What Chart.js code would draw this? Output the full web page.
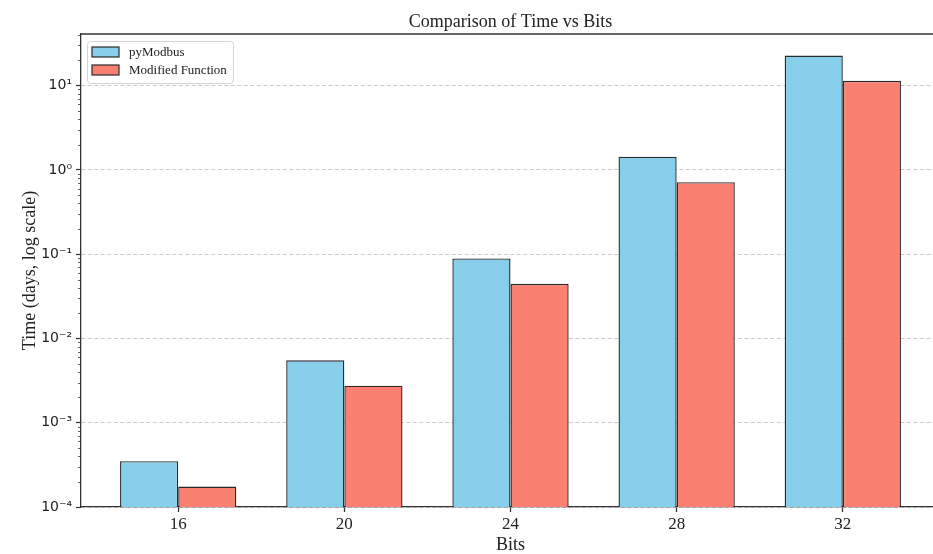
<!DOCTYPE html>
<html>
<head>
<meta charset="utf-8">
<script src="https://cdn.jsdelivr.net/npm/chart.js@4.4.0/dist/chart.umd.min.js"></script>
<style>
  html, body { margin: 0; padding: 0; background: #fff; overflow: hidden; }
  #wrap { width: 941px; height: 554px; }
</style>
</head>
<body>
<div id="wrap"><canvas id="chart" width="941" height="554"></canvas></div>
<script>
// Data
const bits = [16, 20, 24, 28, 32];
const pyModbus = [3.5e-4, 5.5e-3, 0.089, 1.43, 22.8];
const modified = [1.75e-4, 2.75e-3, 0.0445, 0.715, 11.4];
const yTicks = [1e-4, 1e-3, 1e-2, 1e-1, 1, 10];
const yTickLabels = ['10⁻⁴', '10⁻³', '10⁻²', '10⁻¹', '10⁰', '10¹'];

const serif = '"Times New Roman", "Liberation Serif", serif';
const axisColor = '#333';

// Title, top spine, minor ticks and in-axes legend (matplotlib look)
const mplExtras = {
    id: 'mplExtras',
    beforeDatasetsDraw(chart) {
        const ctx = chart.ctx;
        const y = chart.scales.y;
        const area = chart.chartArea;
        ctx.save();
        ctx.strokeStyle = axisColor;
        ctx.lineWidth = 0.8;
        for (let k = -4; k <= 1; k++) {
            for (let m = 2; m <= 9; m++) {
                const v = m * Math.pow(10, k);
                if (v < y.min || v > y.max) continue;
                const py = Math.round(y.getPixelForValue(v)) + 0.5;
                ctx.beginPath();
                ctx.moveTo(area.left - 3, py);
                ctx.lineTo(area.left, py);
                ctx.stroke();
            }
        }
        ctx.restore();
    },
    afterDraw(chart) {
        const ctx = chart.ctx;
        const area = chart.chartArea;
        ctx.save();
        // top spine
        ctx.strokeStyle = axisColor;
        ctx.lineWidth = 1.3;
        ctx.beginPath();
        ctx.moveTo(area.left, area.top);
        ctx.lineTo(area.right + 1, area.top);
        ctx.stroke();

        // title
        ctx.fillStyle = '#222';
        ctx.font = '18px ' + serif;
        ctx.textAlign = 'center';
        ctx.textBaseline = 'alphabetic';
        ctx.fillText('Comparison of Time vs Bits', (area.left + area.right) / 2, 27);

        // legend
        const sets = chart.data.datasets;
        ctx.font = '13px ' + serif;
        let tw = 0;
        sets.forEach(d => { tw = Math.max(tw, ctx.measureText(d.label).width); });
        const bx = area.left + 6, by = area.top + 7;
        const bw = 5 + 27 + 10 + tw + 6, bh = 42;
        ctx.fillStyle = 'rgba(255,255,255,0.85)';
        ctx.strokeStyle = '#d4d4d4';
        ctx.lineWidth = 1;
        ctx.beginPath();
        ctx.roundRect(bx + 0.5, by + 0.5, bw, bh, 3);
        ctx.fill();
        ctx.stroke();
        sets.forEach((d, i) => {
            const hy = by + 6 + i * 18;
            ctx.fillStyle = d.backgroundColor;
            ctx.strokeStyle = d.borderColor;
            ctx.lineWidth = 1.2;
            ctx.fillRect(bx + 5, hy, 27, 10);
            ctx.strokeRect(bx + 5, hy, 27, 10);
            ctx.fillStyle = '#222';
            ctx.textAlign = 'left';
            ctx.textBaseline = 'middle';
            ctx.fillText(d.label, bx + 5 + 27 + 10, hy + 5.5);
        });
        ctx.restore();
    }
};

new Chart(document.getElementById('chart'), {
    type: 'bar',
    data: {
        datasets: [
            {
                label: 'pyModbus',
                data: bits.map((b, i) => ({ x: i, y: pyModbus[i] })),
                backgroundColor: '#87CEEB',
                borderColor: '#2a2a2a',
                borderWidth: 1.4,
                borderSkipped: 'start'
            },
            {
                label: 'Modified Function',
                data: bits.map((b, i) => ({ x: i, y: modified[i] })),
                backgroundColor: '#FA8072',
                borderColor: '#2a2a2a',
                borderWidth: 1.4,
                borderSkipped: 'start'
            }
        ]
    },
    options: {
        responsive: false,
        animation: false,
        devicePixelRatio: 1,
        layout: { padding: { top: 34, right: 1, left: 0, bottom: 0 } },
        categoryPercentage: 0.7,
        barPercentage: 1.0,
        plugins: {
            legend: { display: false },
            title: { display: false },
            tooltip: { enabled: false }
        },
        scales: {
            x: {
                type: 'linear',
                offset: false,
                min: -0.585,
                max: 4.585,
                afterBuildTicks: s => { s.ticks = bits.map((b, i) => ({ value: i })); },
                afterFit: s => { s.height = 47; },
                ticks: {
                    callback: v => String(bits[v]),
                    font: { family: serif, size: 17 },
                    color: '#222',
                    padding: 2,
                    maxRotation: 0
                },
                grid: {
                    offset: false,
                    drawOnChartArea: false,
                    drawTicks: true,
                    tickLength: 5,
                    tickColor: axisColor,
                    tickWidth: 1.3
                },
                border: { display: true, color: axisColor, width: 1.3 },
                title: {
                    display: true,
                    text: 'Bits',
                    font: { family: serif, size: 18, lineHeight: 1 },
                    color: '#222',
                    padding: { top: 0, bottom: 0 }
                }
            },
            y: {
                type: 'logarithmic',
                min: 1e-4,
                max: 41,
                afterBuildTicks: s => { s.ticks = yTicks.map(v => ({ value: v })); },
                afterFit: s => { s.width = 81; },
                ticks: {
                    callback: v => yTickLabels[yTicks.indexOf(v)] ?? '',
                    font: { family: '"DejaVu Sans", sans-serif', size: 14 },
                    color: '#222',
                    padding: 4
                },
                grid: {
                    color: 'rgba(176,176,176,0.75)',
                    lineWidth: 0.9,
                    drawTicks: true,
                    tickLength: 5,
                    tickColor: axisColor,
                    tickWidth: 1.2,
                    tickBorderDash: []
                },
                border: { display: true, color: axisColor, width: 1.3, dash: [4, 2.5] },
                title: {
                    display: true,
                    text: 'Time (days, log scale)',
                    font: { family: serif, size: 18 },
                    color: '#222',
                    padding: { top: 19, bottom: 0 }
                }
            }
        }
    },
    plugins: [mplExtras]
});
</script>
</body>
</html>
